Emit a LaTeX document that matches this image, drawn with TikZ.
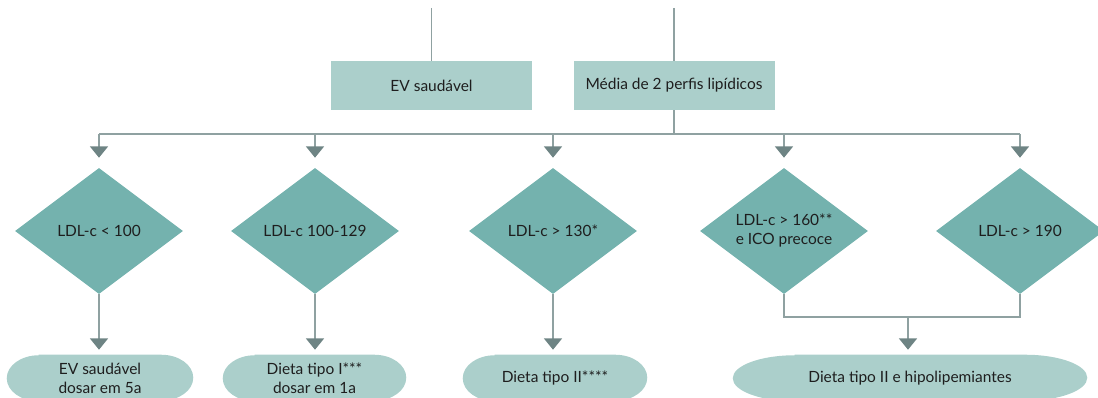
\documentclass[tikz,border=0pt]{standalone}
\usepackage{fontspec}
\setmainfont{Lato}
\usetikzlibrary{shapes.geometric,arrows.meta,backgrounds}
\definecolor{dteal}{HTML}{74B2AE}
\definecolor{lteal}{HTML}{ABCFCB}
\definecolor{linec}{HTML}{8FA1A1}
\definecolor{arrc}{HTML}{6E8484}
\definecolor{txt}{HTML}{1E1E1E}
\newcommand\termfill[2]{%
  \fill[lteal] ([xshift=#2*0.75pt]#1.north west) -- ([xshift=-#2*0.75pt]#1.north east)
    arc[start angle=90,end angle=-90,x radius=#2*0.75pt,y radius=23*0.75pt]
    -- ([xshift=#2*0.75pt]#1.south west)
    arc[start angle=270,end angle=90,x radius=#2*0.75pt,y radius=23*0.75pt] -- cycle;}
\begin{document}
\begin{tikzpicture}[x=0.75pt,y=-0.75pt,
  every node/.style={text=txt},
  font=\fontsize{11.6pt}{14.25pt}\selectfont,
  box/.style={rectangle,fill=lteal,minimum width=201*0.75pt,minimum height=49*0.75pt,inner sep=0pt},
  dia/.style={diamond,fill=dteal,aspect=1.333,minimum width=168*0.75pt,minimum height=126*0.75pt,inner sep=0pt,align=center},
  term/.style={rectangle,minimum height=46*0.75pt,inner sep=0pt,align=center},
  ln/.style={draw=linec,line width=1.15pt},
  arr/.style={ln,-{Triangle[width=13.5pt,length=8.5pt,color=arrc]}},
]
\useasboundingbox (0,0) rectangle (1098,398);

% top boxes
\node[box] (ev) at (431.5,85.5) {EV saudável};
\node[box] (med) at (674,85.5) {Média de 2 perfis lipídicos};
\coordinate (top1) at (431.5,8);
\coordinate (top2) at (674,8);
\draw[ln] (top1) -- (ev);
\draw[ln] (top2) -- (med);

% diamonds
\node[dia] (d1) at (99,231) {LDL-c < 100};
\node[dia] (d2) at (315,231) {LDL-c 100-129};
\node[dia] (d3) at (553,231) {LDL-c > 130*};
\node[dia] (d4) at (784,231) {LDL-c > 160**\\e ICO precoce};
\node[dia] (d5) at (1020,231) {LDL-c > 190};

% terminals
\node[term,minimum width=186*0.75pt] (t1) at (100,378) {EV saudável\\dosar em 5a};
\node[term,minimum width=183*0.75pt] (t2) at (314.5,378) {Dieta tipo I***\\dosar em 1a};
\node[term,minimum width=184*0.75pt] (t3) at (555,378) {Dieta tipo II****};
\node[term,minimum width=354*0.75pt] (t4) at (910,378) {Dieta tipo II e hipolipemiantes};
\begin{scope}[on background layer]
  \termfill{t1}{32}
  \termfill{t2}{32}
  \termfill{t3}{32}
  \termfill{t4}{62}
\end{scope}

% bus
\coordinate (b0) at (674,134);
\coordinate (b1) at (99,134);
\coordinate (b2) at (315,134);
\coordinate (b3) at (553,134);
\coordinate (b4) at (784,134);
\coordinate (b5) at (1020,134);
\draw[ln] (med) -- (b0);
\draw[ln] (b1) -- (b5);
\foreach \i in {1,...,5}{
  \draw[arr,shorten >=7.5pt] (b\i) -- (d\i);
}

% diamond to terminals
\draw[arr,shorten >=3.75pt] (d1.south) -- (d1.south |- t1.north);
\draw[arr,shorten >=3.75pt] (d2.south) -- (d2.south |- t2.north);
\draw[arr,shorten >=3.75pt] (d3.south) -- (d3.south |- t3.north);

\coordinate (jm) at (908,317);
\draw[ln] (d4.south) |- (jm) -| (d5.south);
\draw[arr,shorten >=3.75pt] (jm) -- (jm |- t4.north);
\end{tikzpicture}
\end{document}
